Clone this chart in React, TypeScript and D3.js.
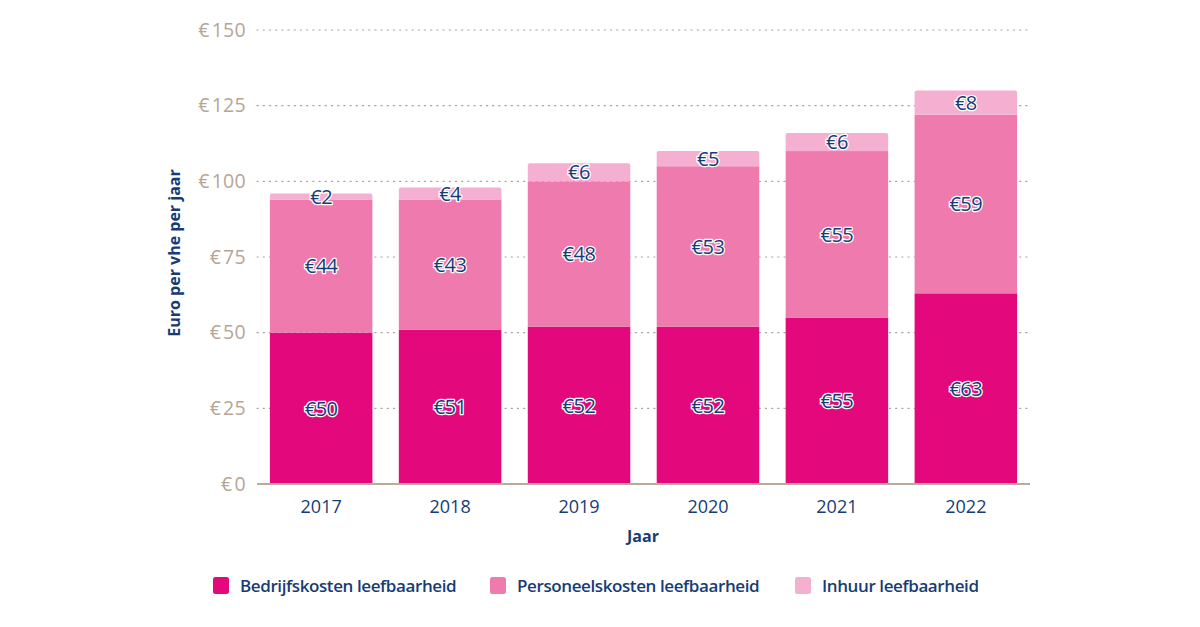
import React from "react";
import * as d3 from "d3";

const years = ["2017", "2018", "2019", "2020", "2021", "2022"];
const bedrijfskosten = [50, 51, 52, 52, 55, 63];
const personeelskosten = [44, 43, 48, 53, 55, 59];
const inhuur = [2, 4, 6, 5, 6, 8];
const yTicks = [0, 25, 50, 75, 100, 125, 150];
const seriesNames = ["Bedrijfskosten leefbaarheid", "Personeelskosten leefbaarheid", "Inhuur leefbaarheid"];
const colors = ["#E3087C", "#EF7AAE", "#F5B0D1"];

const W = 1200, H = 627;
const left = 257, right = 1030, top = 30, bottom = 484;
const navy = "#163C76";
const tan = "#B7A597";
const font = "'Open Sans', 'Noto Sans', sans-serif";

export default function App() {
  const x = d3.scaleBand<string>().domain(years).range([left, right]).paddingInner(0.205).paddingOuter(0.1);
  const y = d3.scaleLinear().domain([0, 150]).range([bottom, top]);
  const rows = years.map((yr, i) => ({ year: yr, b: bedrijfskosten[i], p: personeelskosten[i], h: inhuur[i] }));
  const stack = d3.stack<any>().keys(["b", "p", "h"])(rows);

  return (
    <div style={{ margin: -8 }}>
      <svg width={W} height={H} style={{ display: "block", background: "#fff" }} fontFamily={font}>
        {yTicks.map((t) => (
          <g key={t}>
            {t > 0 && (
              <line x1={left} x2={right} y1={y(t)} y2={y(t)} stroke="#ADA198" strokeWidth={1.2}
                strokeDasharray="1.2 5" strokeLinecap="round" />
            )}
            <text x={246} y={y(t)} dy="0.35em" textAnchor="end" fontSize={19.5} fill={tan} letterSpacing={0.3}>
              <tspan>€</tspan><tspan dx={2}>{t}</tspan>
            </text>
          </g>
        ))}
        {stack.map((s, si) =>
          s.map((d, i) => {
            const x0 = x(years[i])!;
            const bw = x.bandwidth();
            const y0 = y(d[1]);
            const h = y(d[0]) - y(d[1]);
            const isTop = si === stack.length - 1;
            return (
              <g key={si + "-" + i}>
                {isTop ? (
                  <path
                    d={`M${x0},${y0 + h} V${y0 + 2} Q${x0},${y0} ${x0 + 2},${y0} H${x0 + bw - 2} Q${x0 + bw},${y0} ${x0 + bw},${y0 + 2} V${y0 + h} Z`}
                    fill={colors[si]}
                  />
                ) : (
                  <rect x={x0} y={y0} width={bw} height={h} fill={colors[si]} />
                )}
              </g>
            );
          })
        )}
        {stack.map((s, si) =>
          s.map((d, i) => {
            const cx = x(years[i])! + x.bandwidth() / 2;
            const cy = (y(d[0]) + y(d[1])) / 2;
            const v = d[1] - d[0];
            return (
              <text key={"l" + si + i} x={cx} y={cy} dy="0.36em" textAnchor="middle" fontSize={20}
                fill={navy} stroke="#fff" strokeWidth={2.6} paintOrder="stroke" strokeLinejoin="round"
                letterSpacing={-0.5}>
                {"€" + v}
              </text>
            );
          })
        )}
        <line x1={left} x2={right} y1={bottom} y2={bottom} stroke="#B9AA9E" strokeWidth={2} />
        {years.map((yr) => (
          <text key={yr} x={x(yr)! + x.bandwidth() / 2} y={513} textAnchor="middle" fontSize={18} fill={navy}>
            {yr}
          </text>
        ))}
        <text x={643} y={542} textAnchor="middle" fontSize={16} fontWeight={700} fill={navy}>Jaar</text>
        <text transform={`translate(180,${(top + bottom) / 2 - 4}) rotate(-90)`} textAnchor="middle" fontSize={16}
          fontWeight={700} fill={navy}>
          Euro per vhe per jaar
        </text>
        {seriesNames.map((n, i) => {
          const lx = [213, 490, 795][i];
          return (
            <g key={n}>
              <rect x={lx} y={577} width={16} height={17} rx={2.5} fill={colors[i]} />
              <text x={lx + 27} y={592} fontSize={17} fontWeight={600} fill={navy} letterSpacing={-0.4}>
                {n}
              </text>
            </g>
          );
        })}
      </svg>
    </div>
  );
}
